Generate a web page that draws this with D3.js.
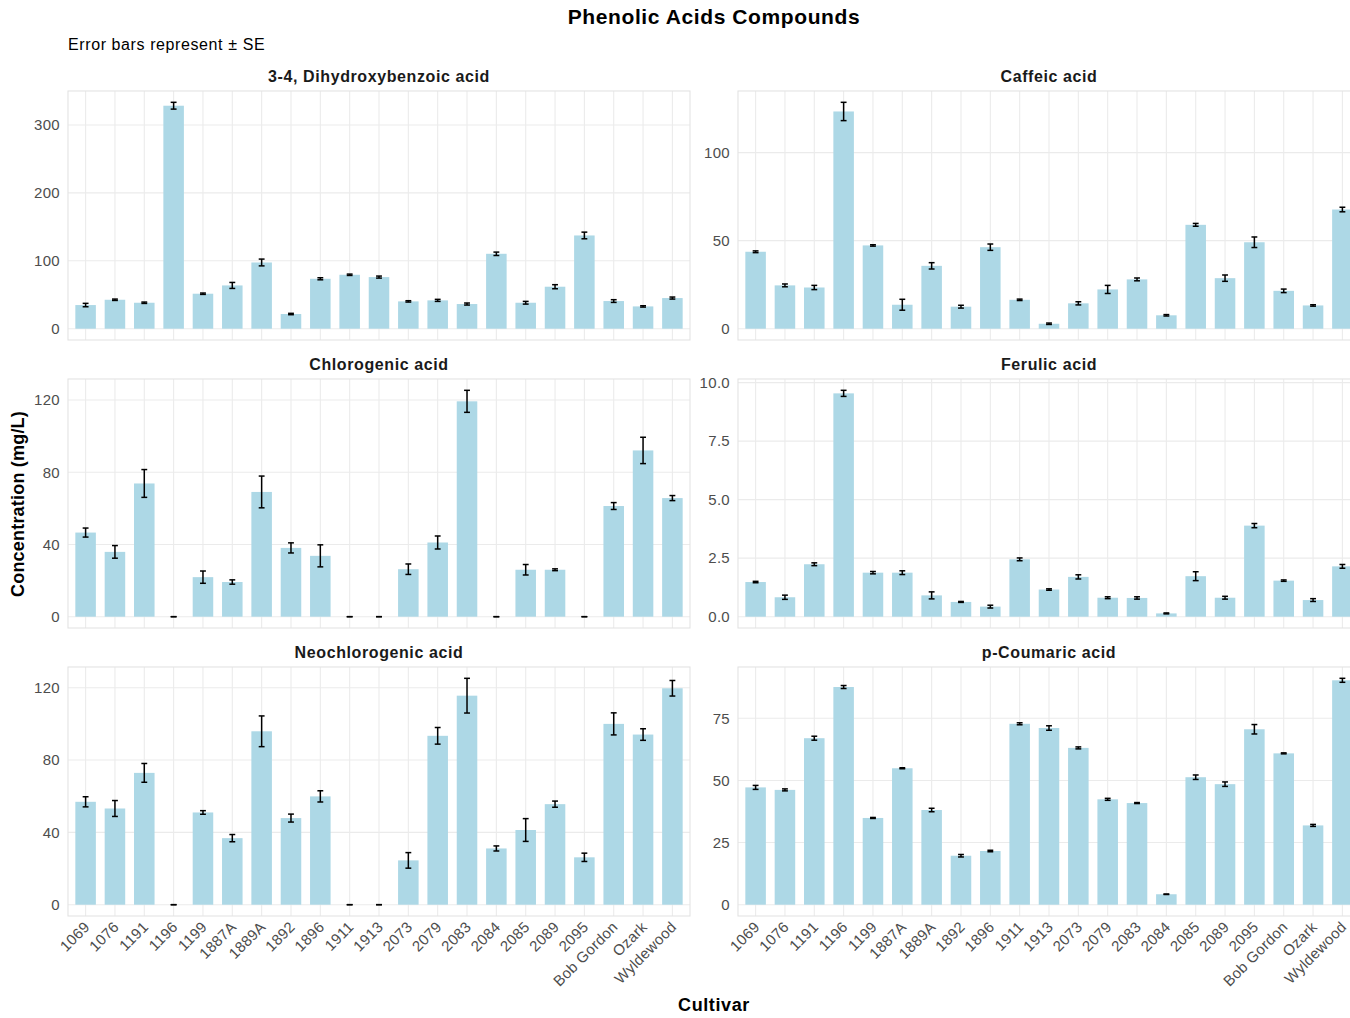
<!DOCTYPE html>
<html lang="en">
  <head>
    <meta charset="UTF-8" />
    <title>Phenolic Acids Compounds</title>
    <style type="text/css">
      body {
        margin: 0;
        background: #ffffff;
      }
      svg {
        display: block;
        font-family: "Liberation Sans", Arial, sans-serif;
      }
      .tick-label {
        fill: #4d4d4d;
        font-size: 15px;
        letter-spacing: 0.3px;
      }
      .strip {
        fill: #1a1a1a;
        font-size: 16px;
        font-weight: bold;
        letter-spacing: 0.6px;
      }
    </style>
  </head>
  <body>
    <div id="chart"></div>
    <script src="https://d3js.org/d3.v7.min.js"></script>
    <script>
      // cultivars on the x axis
      const cultivars = [
        "1069", "1076", "1191", "1196", "1199", "1887A", "1889A", "1892", "1896",
        "1911", "1913", "2073", "2079", "2083", "2084", "2085", "2089", "2095",
        "Bob Gordon", "Ozark", "Wyldewood"
      ];

      // mean and standard error per compound (mg/L)
      const dihydroxyMean = [34.8, 42.6, 38.2, 328.4, 51.5, 63.7, 97.5, 21.6, 73.5, 79.4, 76.0, 40.2, 41.7, 36.3, 110.3, 38.2, 61.8, 137.3, 40.7, 32.8, 45.1];
      const dihydroxySE = [2.5, 1.0, 1.0, 5.0, 1.0, 4.4, 5.0, 1.0, 1.5, 1.0, 1.5, 1.0, 1.5, 1.5, 2.5, 2.0, 3.0, 4.9, 2.0, 1.0, 1.5];

      const caffeicMean = [43.7, 24.6, 23.4, 123.4, 47.3, 13.6, 35.7, 12.5, 46.3, 16.4, 2.8, 14.4, 22.3, 28.0, 7.6, 59.0, 28.7, 49.1, 21.5, 13.2, 67.7];
      const caffeicSE = [0.5, 0.8, 1.2, 5.2, 0.4, 3.1, 1.8, 0.8, 1.8, 0.4, 0.4, 0.9, 2.3, 0.8, 0.4, 0.8, 1.8, 3.0, 1.0, 0.4, 1.3];

      const chlorogenicMean = [46.6, 35.9, 73.8, 0, 21.9, 19.2, 69.1, 38.1, 33.7, 0, 0, 26.3, 41.1, 119.3, 0, 26.0, 26.0, 0, 61.3, 92.1, 65.7];
      const chlorogenicSE = [2.5, 3.5, 7.7, 0, 3.4, 1.2, 8.8, 2.8, 6.1, 0, 0, 2.9, 3.6, 6.1, 0, 2.9, 0.5, 0, 1.9, 7.3, 1.4];

      const ferulicMean = [1.48, 0.83, 2.24, 9.54, 1.88, 1.88, 0.91, 0.63, 0.43, 2.45, 1.16, 1.70, 0.81, 0.80, 0.14, 1.73, 0.81, 3.89, 1.54, 0.71, 2.15];
      const ferulicSE = [0.03, 0.09, 0.06, 0.13, 0.05, 0.08, 0.15, 0.02, 0.06, 0.06, 0.03, 0.09, 0.04, 0.05, 0.02, 0.19, 0.06, 0.09, 0.03, 0.06, 0.08];

      const neochlorogenicMean = [56.9, 53.2, 72.9, 0, 51.0, 36.8, 95.9, 47.9, 59.9, 0, 0, 24.5, 93.4, 115.6, 31.1, 41.3, 55.6, 26.2, 100.0, 94.1, 119.7];
      const neochlorogenicSE = [2.8, 4.4, 5.2, 0, 1.0, 2.0, 8.5, 2.2, 3.1, 0, 0, 4.3, 4.6, 9.6, 1.4, 6.3, 1.7, 2.3, 6.1, 3.2, 4.3];

      const coumaricMean = [47.2, 46.2, 67.0, 87.6, 34.9, 54.9, 38.1, 19.7, 21.6, 72.8, 71.1, 63.1, 42.4, 40.9, 4.2, 51.3, 48.5, 70.6, 60.9, 31.9, 90.3];
      const coumaricSE = [0.8, 0.4, 0.8, 0.6, 0.2, 0.2, 0.7, 0.5, 0.3, 0.4, 0.9, 0.4, 0.4, 0.2, 0.1, 0.9, 0.9, 1.9, 0.2, 0.4, 0.8];

      // y tick labels per panel
      const dihydroxyTicks = [0, 100, 200, 300];
      const caffeicTicks = [0, 50, 100];
      const chlorogenicTicks = [0, 40, 80, 120];
      const ferulicTicks = ["0.0", "2.5", "5.0", "7.5", "10.0"];
      const neochlorogenicTicks = [0, 40, 80, 120];
      const coumaricTicks = [0, 25, 50, 75];

      var panels = [
        { name: "3-4, Dihydroxybenzoic acid", mean: dihydroxyMean, se: dihydroxySE, ticks: dihydroxyTicks },
        { name: "Caffeic acid", mean: caffeicMean, se: caffeicSE, ticks: caffeicTicks },
        { name: "Chlorogenic acid", mean: chlorogenicMean, se: chlorogenicSE, ticks: chlorogenicTicks },
        { name: "Ferulic acid", mean: ferulicMean, se: ferulicSE, ticks: ferulicTicks },
        { name: "Neochlorogenic acid", mean: neochlorogenicMean, se: neochlorogenicSE, ticks: neochlorogenicTicks },
        { name: "p-Coumaric acid", mean: coumaricMean, se: coumaricSE, ticks: coumaricTicks }
      ];

      // layout of the facet grid
      var width = 1350,
        height = 1018;
      var colX = [68, 738],
        rowY = [91, 379, 667],
        panelW = 622,
        panelH = 249;

      var svg = d3
        .select("#chart")
        .append("svg")
        .attr("width", width)
        .attr("height", height);

      svg.append("rect").attr("width", width).attr("height", height).attr("fill", "#ffffff");

      // titles
      svg
        .append("text")
        .attr("x", 714)
        .attr("y", 24)
        .attr("text-anchor", "middle")
        .attr("font-size", "21px")
        .attr("font-weight", "bold")
        .attr("letter-spacing", "0.6px")
        .attr("fill", "#000")
        .text("Phenolic Acids Compounds");

      svg
        .append("text")
        .attr("x", 68)
        .attr("y", 50)
        .attr("font-size", "16px")
        .attr("letter-spacing", "0.6px")
        .attr("fill", "#000")
        .text("Error bars represent ± SE");

      svg
        .append("text")
        .attr("transform", "translate(24,504) rotate(-90)")
        .attr("text-anchor", "middle")
        .attr("font-size", "18px")
        .attr("font-weight", "bold")
        .attr("letter-spacing", "0.2px")
        .attr("fill", "#000")
        .text("Concentration (mg/L)");

      svg
        .append("text")
        .attr("x", 714)
        .attr("y", 1011)
        .attr("text-anchor", "middle")
        .attr("font-size", "18px")
        .attr("font-weight", "bold")
        .attr("letter-spacing", "0.6px")
        .attr("fill", "#000")
        .text("Cultivar");

      panels.forEach((p, i) => {
        var col = i % 2,
          row = Math.floor(i / 2);
        var x0 = colX[col],
          y0 = rowY[row];

        var data = cultivars.map((c, k) => ({ name: c, value: p.mean[k], se: p.se[k] }));

        var x = d3
          .scaleBand()
          .domain(cultivars)
          .range([x0, x0 + panelW])
          .paddingInner(0)
          .paddingOuter(0.1);

        var top = d3.max(data, (d) => d.value + d.se);
        var y = d3
          .scaleLinear()
          .domain([-0.05 * top, 1.05 * top])
          .range([y0 + panelH, y0]);

        var g = svg.append("g");

        // grid
        g.selectAll(".vgrid")
          .data(cultivars)
          .enter()
          .append("line")
          .attr("x1", (d) => x(d) + x.bandwidth() / 2)
          .attr("x2", (d) => x(d) + x.bandwidth() / 2)
          .attr("y1", y0)
          .attr("y2", y0 + panelH)
          .attr("stroke", "#ebebeb")
          .attr("stroke-width", 1.1);

        g.selectAll(".hgrid")
          .data(p.ticks)
          .enter()
          .append("line")
          .attr("x1", x0)
          .attr("x2", x0 + panelW)
          .attr("y1", (d) => y(+d))
          .attr("y2", (d) => y(+d))
          .attr("stroke", "#ebebeb")
          .attr("stroke-width", 1.1);

        g.append("rect")
          .attr("x", x0)
          .attr("y", y0)
          .attr("width", panelW)
          .attr("height", panelH)
          .attr("fill", "none")
          .attr("stroke", "#e3e3e3")
          .attr("stroke-width", 1.1);

        // y tick labels
        var yAxis = d3
          .axisLeft(y)
          .tickValues(p.ticks.map(Number))
          .tickFormat((d, k) => p.ticks[k])
          .tickSize(0)
          .tickPadding(8);
        var ay = g.append("g").attr("transform", "translate(" + x0 + ",0)").call(yAxis);
        ay.select(".domain").remove();
        ay.selectAll("text").attr("class", "tick-label").attr("font-family", null).attr("font-size", null);

        // strip title
        g.append("text")
          .attr("class", "strip")
          .attr("x", x0 + panelW / 2)
          .attr("y", y0 - 9)
          .attr("text-anchor", "middle")
          .text(p.name);

        // bars
        g.selectAll(".bar")
          .data(data)
          .enter()
          .append("rect")
          .attr("x", (d) => x(d.name) + x.bandwidth() * 0.15)
          .attr("width", x.bandwidth() * 0.7)
          .attr("y", (d) => y(d.value))
          .attr("height", (d) => y(0) - y(d.value))
          .attr("fill", "#add8e6");

        // error bars
        var cap = x.bandwidth() * 0.1;
        var eb = g.selectAll(".err").data(data).enter().append("g");
        eb.append("line")
          .attr("x1", (d) => x(d.name) + x.bandwidth() / 2)
          .attr("x2", (d) => x(d.name) + x.bandwidth() / 2)
          .attr("y1", (d) => y(d.value - d.se))
          .attr("y2", (d) => y(d.value + d.se));
        eb.append("line")
          .attr("x1", (d) => x(d.name) + x.bandwidth() / 2 - cap)
          .attr("x2", (d) => x(d.name) + x.bandwidth() / 2 + cap)
          .attr("y1", (d) => y(d.value - d.se))
          .attr("y2", (d) => y(d.value - d.se));
        eb.append("line")
          .attr("x1", (d) => x(d.name) + x.bandwidth() / 2 - cap)
          .attr("x2", (d) => x(d.name) + x.bandwidth() / 2 + cap)
          .attr("y1", (d) => y(d.value + d.se))
          .attr("y2", (d) => y(d.value + d.se));
        eb.selectAll("line").attr("stroke", "#000").attr("stroke-width", 1.5);

        // x tick labels only on bottom row
        if (row === 2) {
          g.selectAll(".xlab")
            .data(cultivars)
            .enter()
            .append("text")
            .attr("class", "tick-label")
            .attr("text-anchor", "end")
            .attr("transform", (d) => "translate(" + (x(d) + x.bandwidth() / 2 + 5) + "," + (y0 + panelH + 12) + ") rotate(-45)")
            .text((d) => d);
        }
      });
    </script>
  </body>
</html>
